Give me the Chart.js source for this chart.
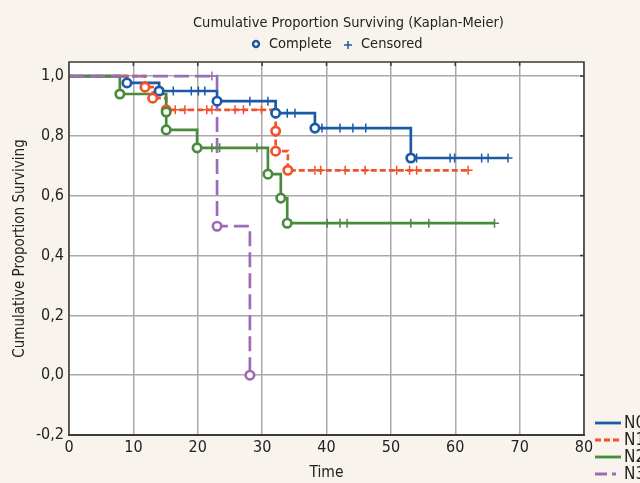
<!doctype html>
<html lang="en">
<head>
  <meta charset="utf-8">
  <title>Cumulative Proportion Surviving</title>
  <script src="https://cdn.jsdelivr.net/npm/chart.js"></script>
  <style>
    html,body{margin:0;padding:0;background:#f8f4ed;}
    #wrap{width:640px;height:483px;position:relative;}
  </style>
</head>
<body>
  <div id="wrap"><canvas id="chart"></canvas></div>

  <script>
    /* ─── data ─── */
    const GROUPS  = ['N0','N1','N2','N3'];
    const COLORS  = ['#1c5aa8','#f0532b','#4a8a3c','#9c6cb6'];

    // event (complete) times and survival just after each drop
    const N0_EVENT_T = [9.0, 14.0, 23.0, 32.1, 38.2, 53.1];
    const N0_EVENT_S = [0.977, 0.950, 0.916, 0.876, 0.826, 0.726];
    const N0_CENS_T  = [16.2, 19.0, 20.1, 21.1, 28.1, 30.9, 33.9, 35.1, 39.3, 42.1, 44.1, 46.1,
                        54.0, 59.2, 59.9, 64.1, 65.1, 68.2];
    const N0_END     = 68.2;

    const N1_EVENT_T = [11.8, 13.0, 15.1, 32.1, 32.1, 34.0];
    const N1_EVENT_S = [0.963, 0.926, 0.887, 0.816, 0.749, 0.685];
    const N1_CENS_T  = [16.5, 18.0, 21.4, 22.2, 25.8, 27.1, 29.9, 38.2, 39.1, 42.9, 46.0,
                        50.9, 52.9, 54.0, 62.0];
    const N1_END     = 62.0;

    const N2_EVENT_T = [7.9, 15.1, 15.1, 19.9, 30.9, 32.9, 33.9];
    const N2_EVENT_S = [0.940, 0.880, 0.820, 0.760, 0.672, 0.592, 0.508];
    const N2_CENS_T  = [22.2, 23.4, 29.2, 40.1, 42.1, 43.2, 53.1, 55.9, 66.1];
    const N2_END     = 66.1;

    const N3_EVENT_T = [23.0, 28.1];
    const N3_EVENT_S = [0.498, 0.0];
    const N3_CENS_T  = [22.2];
    const N3_END     = 28.1;

    const X_TICKS = [0,10,20,30,40,50,60,70,80];
    const Y_TICKS = [-0.2,0,0.2,0.4,0.6,0.8,1.0];

    /* ─── look ─── */
    const FONT   = '"Liberation Sans Narrow","DejaVu Sans Condensed","Roboto Condensed",sans-serif';
    const DASHES = [[], [6,3], [], [15,6]];
    const GRID   = '#a9a9a9';
    const FRAME  = '#3a3a3a';

    const SERIES = [
      {t:N0_EVENT_T, s:N0_EVENT_S, c:N0_CENS_T, end:N0_END},
      {t:N1_EVENT_T, s:N1_EVENT_S, c:N1_CENS_T, end:N1_END},
      {t:N2_EVENT_T, s:N2_EVENT_S, c:N2_CENS_T, end:N2_END},
      {t:N3_EVENT_T, s:N3_EVENT_S, c:N3_CENS_T, end:N3_END},
    ];

    const survAt=(t,evT,evS)=>{let s=1;evT.forEach((e,i)=>{if(e<=t)s=evS[i];});return s;};

    const sets=[];
    SERIES.forEach((g,i)=>{
      const steps=[{x:0,y:1}];
      g.t.forEach((t,k)=>steps.push({x:t,y:g.s[k]}));
      if(g.end>g.t[g.t.length-1]) steps.push({x:g.end,y:g.s[g.s.length-1]});
      const col=COLORS[i];
      // step curve
      sets.push({
        label:GROUPS[i], data:steps, stepped:true,
        borderColor:col, borderWidth:2.7, borderDash:DASHES[i],
        pointRadius:0, fill:false, order:7-i
      });
      // complete (events)
      sets.push({
        label:'_'+GROUPS[i]+'_complete', type:'scatter',
        data:g.t.map((t,k)=>({x:t,y:g.s[k]})),
        pointStyle:'circle', pointRadius:4.2, pointBorderWidth:2.7,
        pointBorderColor:col, pointBackgroundColor:'#fff', order:3-i
      });
      // censored
      sets.push({
        label:'_'+GROUPS[i]+'_censored', type:'scatter',
        data:g.c.map(t=>({x:t,y:survAt(t,g.t,g.s)})),
        pointStyle:'cross', pointRadius:4.5, pointBorderWidth:1.5,
        pointBorderColor:col, order:3-i
      });
    });

    /* ─── plugins ─── */
    const bgPlugin={
      id:'bg',
      beforeDraw({ctx,chartArea:{left,top,width,height}}){
        ctx.save();
        ctx.fillStyle='#f8f4ed';ctx.fillRect(0,0,640,483);
        ctx.fillStyle='#fff';ctx.fillRect(left,top,width,height);
        ctx.restore();
      }
    };

    const framePlugin={
      id:'frame',
      afterDraw({ctx,chartArea:{left,right,top,bottom},scales:{x,y}}){
        ctx.save();
        ctx.strokeStyle=FRAME;ctx.lineWidth=1.5;
        ctx.strokeRect(left,top,right-left,bottom-top);
        ctx.lineWidth=2.2;
        ctx.beginPath();ctx.moveTo(left-1,bottom);ctx.lineTo(right+1,bottom);ctx.stroke();
        // small inward ticks on top and right edges
        ctx.lineWidth=1.5;
        X_TICKS.slice(1,-1).forEach(v=>{
          const p=x.getPixelForValue(v);
          ctx.beginPath();ctx.moveTo(p,top);ctx.lineTo(p,top+4);ctx.stroke();
        });
        Y_TICKS.slice(1).forEach(v=>{
          const p=y.getPixelForValue(v);
          ctx.beginPath();ctx.moveTo(right,p);ctx.lineTo(right-4,p);ctx.stroke();
        });
        ctx.restore();
      }
    };

    const legendPlugin={
      id:'kmLegend',
      afterDraw({ctx}){
        ctx.save();
        ctx.fillStyle='#222';
        ctx.textBaseline='middle';
        // title
        ctx.font='14.5px '+FONT;
        ctx.textAlign='left';
        ctx.fillText('Cumulative Proportion Surviving (Kaplan-Meier)',193,23);
        // marker legend
        ctx.fillText('Complete',269,44);
        ctx.fillText('Censored',361,44);
        ctx.strokeStyle=COLORS[0];ctx.lineWidth=2.4;
        ctx.beginPath();ctx.arc(256,44,3,0,Math.PI*2);ctx.stroke();
        ctx.lineWidth=1.5;
        ctx.beginPath();ctx.moveTo(344,45);ctx.lineTo(352,45);ctx.moveTo(348,41);ctx.lineTo(348,49);ctx.stroke();
        // group legend (right, bottom)
        ctx.font='17px '+FONT;
        GROUPS.forEach((g,i)=>{
          const yy=423+i*17;
          ctx.strokeStyle=COLORS[i];ctx.lineWidth=2.8;
          ctx.setLineDash(i===3?[12,5,4,50]:DASHES[i]);
          ctx.beginPath();ctx.moveTo(595,yy);ctx.lineTo(621,yy);ctx.stroke();
          ctx.setLineDash([]);
          ctx.fillStyle='#222';
          ctx.fillText(g,624,yy+1);
        });
        ctx.restore();
      }
    };

    /* ─── chart ─── */
    new Chart(document.getElementById('chart'),{
      type:'line',
      data:{datasets:sets},
      options:{
        responsive:true, maintainAspectRatio:false, animation:false,
        layout:{padding:{top:62,right:56,left:0,bottom:0}},
        plugins:{legend:{display:false},tooltip:{enabled:false}},
        scales:{
          x:{
            type:'linear', min:0, max:80,
            afterFit(s){s.height=48;},
            afterBuildTicks(s){s.ticks=X_TICKS.map(v=>({value:v}));},
            grid:{color:GRID,lineWidth:1.5,drawTicks:false},
            border:{display:false},
            ticks:{font:{family:FONT,size:16},color:'#222',padding:3,maxRotation:0},
            title:{display:true,text:'Time',font:{family:FONT,size:15.5},color:'#222',padding:{top:0,bottom:1}}
          },
          y:{
            type:'linear', min:-0.2, max:1.047,
            afterFit(s){s.width=69;},
            afterBuildTicks(s){s.ticks=Y_TICKS.map(v=>({value:v}));},
            grid:{color:GRID,lineWidth:1.5,drawTicks:false},
            border:{display:false},
            ticks:{font:{family:FONT,size:16},color:'#222',padding:5,
                   callback:v=>v.toFixed(1).replace('.',',')},
            title:{display:true,text:'Cumulative Proportion Surviving',font:{family:FONT,size:15},color:'#222',padding:{top:11,bottom:0}}
          }
        }
      },
      plugins:[bgPlugin,framePlugin,legendPlugin]
    });
  </script>
</body>
</html>
